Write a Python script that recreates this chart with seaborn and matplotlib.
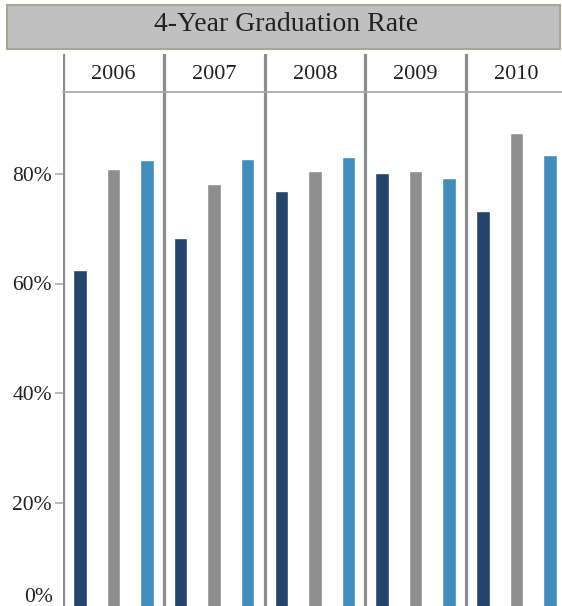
import matplotlib
matplotlib.use("Agg")
import numpy as np
import pandas as pd
import seaborn as sns
import matplotlib.pyplot as plt
from matplotlib.patches import Rectangle

# data
years = ["2006", "2007", "2008", "2009", "2010"]
groups = ["School", "District", "State"]
school = [62.5, 68.3, 76.9, 80.2, 73.2]
district = [81.0, 78.2, 80.5, 80.5, 87.5]
state = [82.6, 82.7, 83.1, 79.3, 83.5]
yticks = [20, 40, 60, 80]

colors = ["#24446C", "#8E8E8E", "#408DBE"]
sep_color = "#8C8C8C"

df = pd.DataFrame({
    "year": np.repeat(years, 3),
    "group": groups * len(years),
    "rate": [v for trio in zip(school, district, state) for v in trio],
})

sns.set_style("white")
plt.rcParams["font.family"] = ["Liberation Serif", "DejaVu Serif"]

W, H = 562, 606
fig = plt.figure(figsize=(W / 100, H / 100), dpi=100)

# pixel geometry
x0, panel_w = 63, 100.75
ax_w = panel_w * len(years)
y_top, y_zero = 92, 612
head_top = 54

ax = fig.add_axes([x0 / W, (H - y_zero) / H, ax_w / W, (y_zero - y_top) / H])
sns.barplot(data=df, x="year", y="rate", hue="group", palette=colors,
            width=1.0, gap=0.6, dodge=True, legend=False, ax=ax,
            saturation=1, errorbar=None)
ax.set_xlim(-0.5, len(years) - 0.5)
ax.set_ylim(0, (y_zero - y_top) / 5.475)
for s in ax.spines.values():
    s.set_visible(False)
for i in range(len(years)):
    ax.axvline(i - 0.5, color=sep_color, lw=2.3, zorder=3)
ax.set_xticks([])
ax.set_xlabel("")
ax.set_ylabel("")
ax.set_yticks(yticks)
ax.set_yticklabels([f"{t}%" for t in yticks], fontsize=15.5, color="#222222")
ax.tick_params(axis="y", length=6, width=1.2, color="#AAAAAA", pad=2, left=True)
# 0% sits below the visible area in the original, label is nudged up
fig.text((x0 - 10) / W, 1 - 597 / H, "0%", ha="right", va="center",
         fontsize=15.5, color="#222222")

# header strip with years
hax = fig.add_axes([x0 / W, (H - y_top) / H, ax_w / W, (y_top - head_top) / H])
hax.set_xlim(-0.5, len(years) - 0.5)
hax.set_ylim(0, 1)
hax.axis("off")
for i, yr in enumerate(years):
    hax.axvline(i - 0.5, color=sep_color, lw=2.3)
    hax.text(i, 0.45, yr, ha="center", va="center", fontsize=16, color="#222222")
hax.axhline(0, color="#AAAAAA", lw=1.3, clip_on=False)

# title box
fig.add_artist(Rectangle((7 / W, 1 - 49 / H), 553 / W, 44 / H,
                         transform=fig.transFigure, facecolor="#C0C0C0",
                         edgecolor="#A8A696", lw=1.5))
fig.text(286 / W, 1 - 31 / H, "4-Year Graduation Rate", ha="center",
         va="baseline", fontsize=20, color="#222222")

fig.savefig("out.png", dpi=100)
